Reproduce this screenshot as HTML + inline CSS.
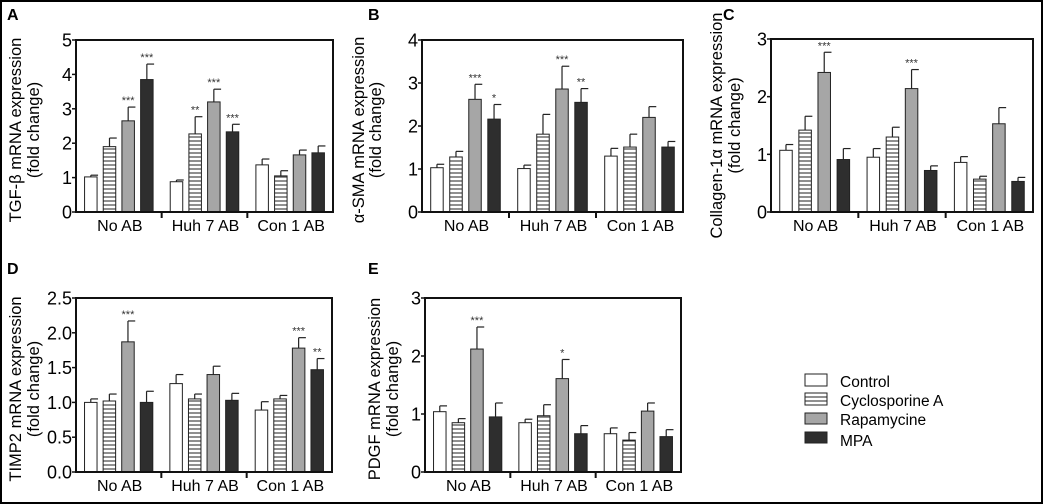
<!DOCTYPE html>
<html><head><meta charset="utf-8"><style>
body{margin:0;background:#fff}
svg{display:block;font-family:"Liberation Sans","DejaVu Sans",sans-serif}
</style></head><body>
<svg id="fig" width="1043" height="504" viewBox="0 0 1043 504" xmlns="http://www.w3.org/2000/svg">
<defs>
<pattern id="hatch" width="4" height="4" patternUnits="userSpaceOnUse"><rect width="4" height="4" fill="#fff"/><line x1="0" y1="1" x2="4" y2="1" stroke="#222" stroke-width="1"/></pattern>
</defs>
<rect x="1" y="1" width="1041" height="502" fill="none" stroke="#000" stroke-width="2"/>
<g>
<rect x="805" y="374" width="22" height="12" fill="#fff" stroke="#222"/>
<text x="840" y="387" font-size="15.5">Control</text>
<rect x="805" y="393" width="22" height="12" fill="url(#hatch)" stroke="#222"/>
<text x="840" y="406" font-size="15.5">Cyclosporine A</text>
<rect x="805" y="413" width="22" height="11" fill="#a6a6a6" stroke="#222"/>
<text x="840" y="425" font-size="15.5">Rapamycine</text>
<rect x="805" y="432" width="22" height="11" fill="#2e2e2e" stroke="#222"/>
<text x="840" y="446" font-size="15.5">MPA</text>
</g>
</svg>
<script>
const groups = ["No AB","Huh 7 AB","Con 1 AB"];
const seriesNames = ["control","cyclosporine","rapamycine","mpa"];
const aVals = [[1.02,1.9,2.65,3.85],[0.88,2.27,3.2,2.33],[1.37,1.05,1.66,1.72]];
const aErr = [[0.05,0.25,0.4,0.45],[0.05,0.5,0.37,0.22],[0.17,0.15,0.14,0.2]];
const aStars = [["","","***","***"],["","**","***","***"],["","","",""]];
const aTicks = ["0","1","2","3","4","5"];
const bVals = [[1.03,1.28,2.62,2.16],[1.01,1.81,2.86,2.55],[1.3,1.51,2.2,1.51]];
const bErr = [[0.08,0.13,0.35,0.34],[0.08,0.46,0.53,0.32],[0.18,0.3,0.25,0.13]];
const bStars = [["","","***","*"],["","","***","**"],["","","",""]];
const bTicks = ["0","1","2","3","4"];
const cVals = [[1.07,1.42,2.42,0.91],[0.95,1.3,2.14,0.72],[0.86,0.57,1.53,0.53]];
const cErr = [[0.1,0.24,0.35,0.19],[0.15,0.17,0.33,0.08],[0.1,0.05,0.28,0.07]];
const cStars = [["","","***",""],["","","***",""],["","","",""]];
const cTicks = ["0","1","2","3"];
const dVals = [[1.0,1.02,1.87,1.0],[1.27,1.05,1.4,1.03],[0.89,1.05,1.78,1.47]];
const dErr = [[0.05,0.1,0.3,0.16],[0.13,0.07,0.12,0.1],[0.12,0.05,0.15,0.16]];
const dStars = [["","","***",""],["","","",""],["","","***","**"]];
const dTicks = ["0.0","0.5","1.0","1.5","2.0","2.5"];
const eVals = [[1.04,0.85,2.12,0.95],[0.85,0.97,1.61,0.66],[0.66,0.55,1.05,0.61]];
const eErr = [[0.1,0.07,0.38,0.24],[0.06,0.19,0.33,0.14],[0.1,0.13,0.14,0.12]];
const eStars = [["","","***",""],["","","*",""],["","","",""]];
const eTicks = ["0","1","2","3"];

const NS="http://www.w3.org/2000/svg";
const svg=document.getElementById('fig');
const fills=["#fff","url(#hatch)","#a6a6a6","#2e2e2e"];
function mk(tag,attrs,parent,txt){const e=document.createElementNS(NS,tag);for(const k in attrs)e.setAttribute(k,attrs[k]);if(txt!==undefined)e.textContent=txt;parent.appendChild(e);return e;}

function panel(p){
  const g=mk('g',{},svg);
  
  
  const ymax=parseFloat(p.ticks[p.ticks.length-1]);
  const y=v=>p.y1-(v/ymax)*(p.y1-p.y0);
  const slot=(p.x1-p.x0)/3;
  const pad=slot*0.1, bw=12.5, step=(slot-2*pad-bw)/3;
  const bx=(gi,si)=>p.x0+gi*slot+pad+si*step;
  const L=mk('text',{x:p.lx,y:p.ly,'font-size':16,'font-weight':'bold'},g,p.id);
  
  
  p.vals.forEach((row,gi)=>row.forEach((v,si)=>{
    const x=bx(gi,si);
    const top=y(v+p.err[gi][si]);
    const eb=mk('line',{x1:x+bw/2,x2:x+bw/2,y1:y(v),y2:top,stroke:'#222','stroke-width':1.2},g);
    
    
    mk('line',{x1:x+bw/2,x2:x+bw+1,y1:top,y2:top,stroke:'#222','stroke-width':1.2},g);
    const r=mk('rect',{x:x,y:y(v),width:bw,height:y(0)-y(v),fill:fills[si],stroke:'#222','stroke-width':1},g);
    
    
    const s=p.stars[gi][si];
    if(s){const t=mk('text',{x:x+bw/2,y:top-3,'font-size':11,'text-anchor':'middle',fill:'#333'},g,s);
      
      }
  }));
  const box=mk('rect',{x:p.x0,y:p.y0,width:p.x1-p.x0,height:p.y1-p.y0,fill:'none',stroke:'#111','stroke-width':2},g);
  
  
  p.ticks.forEach(t=>{
    const v=parseFloat(t);
    mk('line',{x1:p.x0-4,x2:p.x0,y1:y(v),y2:y(v),stroke:'#111','stroke-width':1.5},g);
    const tt=mk('text',{x:p.x0-4,y:y(v)+6.5,'font-size':18,'text-anchor':'end'},g,t);
    
    
  });
  groups.forEach((n,gi)=>{
    if(gi>0) mk('line',{x1:p.x0+gi*slot,x2:p.x0+gi*slot,y1:p.y1,y2:p.y1+6,stroke:'#111','stroke-width':2},g);
    const t=mk('text',{x:p.x0+gi*slot+slot/2+1,y:p.y1+19,'font-size':16,'text-anchor':'middle'},g,n);
    
    
  });
  const cy=(p.y0+p.y1)/2+p.dy;
  const t1=mk('text',{x:0,y:0,'font-size':16.5,'text-anchor':'middle',transform:`translate(${p.tx1},${cy}) rotate(-90)`},g,p.title);
  
  
  const t2=mk('text',{x:0,y:0,'font-size':16.5,'text-anchor':'middle',transform:`translate(${p.tx2},${cy}) rotate(-90)`},g,'(fold change)');
  
  
}
panel({id:'A',x0:76,x1:333,y0:40,y1:212,ticks:aTicks,vals:aVals,err:aErr,stars:aStars,lx:7,ly:20,title:'TGF-β mRNA expression',tx1:21,tx2:39,dy:4});
panel({id:'B',x0:422,x1:683,y0:40,y1:212,ticks:bTicks,vals:bVals,err:bErr,stars:bStars,lx:368,ly:20,title:'α-SMA mRNA expression',tx1:364,tx2:381,dy:4});
panel({id:'C',x0:771,x1:1033,y0:39,y1:212,ticks:cTicks,vals:cVals,err:cErr,stars:cStars,lx:723,ly:20,title:'Collagen-1α mRNA expression',tx1:722,tx2:740,dy:0});
panel({id:'D',x0:76,x1:332,y0:298,y1:472,ticks:dTicks,vals:dVals,err:dErr,stars:dStars,lx:7,ly:274,title:'TIMP2 mRNA expression',tx1:21,tx2:39,dy:4});
panel({id:'E',x0:425,x1:681,y0:298,y1:472,ticks:eTicks,vals:eVals,err:eErr,stars:eStars,lx:368,ly:274,title:'PDGF mRNA expression',tx1:380,tx2:398,dy:4});
</script>
</body></html>
